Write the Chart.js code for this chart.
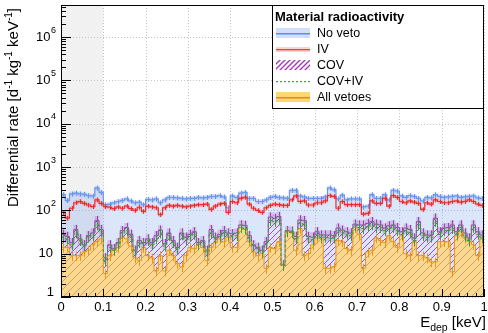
<!DOCTYPE html>
<html>
<head>
<meta charset="utf-8">
<script src="https://cdn.jsdelivr.net/npm/chart.js@4.4.1/dist/chart.umd.min.js"></script>
<style>
  html, body { margin: 0; padding: 0; background: #fff; }
  #c { display: block; }
</style>
</head>
<body>
<canvas id="c" width="488" height="333"></canvas>
<script>
// bins: 100 bins of 0.01 keV between 0 and 1 keV
const binEdges = Array.from({ length: 101 }, (_, i) => +(i * 0.01).toFixed(2));

// differential rates per bin [d^-1 kg^-1 keV^-1]
const noVeto = [
  230, 170, 240, 250, 240, 235, 220, 215, 330, 260, 135, 140, 150, 160, 170, 185, 165, 150, 155, 135,
  180, 175, 185, 150, 175, 200, 200, 195, 190, 185, 190, 190, 200, 195, 200, 210, 210, 220, 205, 115,
  215, 200, 250, 260, 190, 190, 160, 160, 175, 200, 210, 200, 195, 190, 290, 290, 215, 205, 190, 190,
  190, 190, 205, 330, 300, 185, 225, 175, 185, 185, 185, 120, 125, 230, 190, 190, 230, 175, 290, 280,
  215, 200, 220, 210, 190, 165, 200, 195, 230, 210, 200, 205, 210, 215, 200, 205, 210, 215, 195, 190
];
const iv = [
  90, 66, 112, 150, 160, 145, 133, 122, 175, 145, 122, 118, 110, 120, 112, 125, 110, 100, 118, 95,
  125, 120, 115, 80, 115, 130, 125, 130, 125, 120, 125, 130, 135, 135, 140, 105, 125, 140, 145, 90,
  160, 150, 190, 200, 140, 112, 100, 90, 115, 130, 140, 135, 130, 130, 175, 215, 160, 165, 133, 133,
  150, 150, 165, 220, 210, 112, 160, 135, 135, 135, 135, 82, 85, 165, 145, 145, 190, 125, 220, 200,
  160, 150, 165, 155, 145, 105, 150, 140, 175, 160, 150, 150, 160, 165, 155, 160, 175, 160, 140, 130
];
const cov = [
  28, 25, 18, 36, 22, 16, 26, 30, 58, 36, 8, 16, 13, 18, 34, 40, 28, 12, 20, 18,
  22, 18, 26, 35, 17, 30, 20, 14, 30, 24, 28, 32, 18, 20, 12, 36, 24, 28, 34, 30,
  29, 30, 46, 45, 26, 16, 14, 12, 19, 70, 66, 72, 5.5, 34, 33, 25, 60, 58, 25, 24,
  32, 27, 27, 27, 26, 39, 35, 32, 30, 48, 46, 46, 50, 55, 48, 46, 39, 44, 46, 40,
  32, 39, 36, 23, 55, 30, 27, 27, 66, 32, 39, 40, 46, 32, 46, 30, 23, 46, 32, 27
];
const covIv = [
  24, 22, 16, 30, 20, 15, 24, 26, 46, 32, 7, 14, 12, 17, 30, 34, 24, 11, 18, 17,
  20, 16, 22, 30, 15, 26, 18, 13, 27, 21, 25, 28, 16, 18, 11, 30, 22, 25, 30, 27,
  26, 26, 40, 38, 23, 15, 13, 11, 17, 58, 55, 60, 5.3, 32, 31, 22, 50, 48, 22, 21,
  28, 24, 24, 23, 23, 34, 30, 28, 26, 44, 40, 38, 42, 46, 40, 40, 34, 38, 40, 34,
  28, 34, 30, 20, 46, 26, 24, 24, 55, 28, 34, 34, 38, 28, 40, 26, 20, 40, 28, 24
];
const allVetoes = [
  14, 14, 9, 9, 9, 11, 12, 16, 19, 22, 3.5, 9, 12, 14, 24, 22, 15, 8, 7, 14,
  9, 8, 4, 9, 4, 12, 9, 6, 5, 9, 14, 13, 16, 14, 7, 14, 18, 22, 19, 24,
  14, 14, 40, 36, 19, 11, 9, 10, 4.6, 14, 13, 19, 5.3, 32, 30, 12, 38, 9, 10, 16,
  23, 22, 4.6, 4.6, 5, 20, 19, 13, 12, 40, 28, 4.6, 11, 12, 23, 20, 18, 26, 19, 14,
  26, 10, 9, 19, 9, 9, 8, 6.5, 6.5, 19, 19, 19, 3.8, 26, 32, 23, 19, 16, 9, 22
];

const seriesNames = ['No veto', 'IV', 'COV', 'COV+IV', 'All vetoes'];
const legendTitle = 'Material radioactivity';
const xTickValues = [0, 0.1, 0.2, 0.3, 0.4, 0.5, 0.6, 0.7, 0.8, 0.9, 1];
const xTickLabels = ['0', '0.1', '0.2', '0.3', '0.4', '0.5', '0.6', '0.7', '0.8', '0.9', '1'];
const yTickValues = [1, 10, 100, 1e3, 1e4, 1e5, 1e6];
const yTickExponents = ['', '', '2', '3', '4', '5', '6'];
const vetoRegion = [0, 0.1];

const FONT = '"Liberation Sans", Arial, Helvetica, sans-serif';

function hatch(bg, fg, size, lw) {
  const c = document.createElement('canvas');
  c.width = size; c.height = size;
  const g = c.getContext('2d');
  if (bg) { g.fillStyle = bg; g.fillRect(0, 0, size, size); }
  g.strokeStyle = fg;
  g.lineWidth = lw;
  g.beginPath();
  g.moveTo(-1, size + 1); g.lineTo(size + 1, -1);
  g.moveTo(-size / 2 - 1, size / 2 + 1); g.lineTo(size / 2 + 1, -size / 2 - 1);
  g.moveTo(size / 2 - 1, size * 1.5 + 1); g.lineTo(size * 1.5 + 1, size / 2 - 1);
  g.stroke();
  return g.createPattern(c, 'repeat');
}

const purpleHatch = hatch(null, 'rgba(165,55,185,0.9)', 6, 1);
const purpleHatchLegend = hatch(null, '#a637bb', 5, 1.4);
const orangeHatch = hatch('#f8d98e', '#dc9a72', 8, 1);

function histPoints(vals) {
  const pts = vals.map((v, i) => ({ x: binEdges[i], y: v }));
  pts.push({ x: binEdges[vals.length], y: vals[vals.length - 1] });
  return pts;
}

function histSet(label, vals, opts) {
  return Object.assign({
    label: label,
    data: histPoints(vals),
    histValues: vals,
    stepped: true,
    pointRadius: 0,
    borderWidth: 1,
    tension: 0,
    fill: false
  }, opts);
}

const datasets = [
  histSet(seriesNames[0], noVeto, {
    borderColor: '#6a94ee', backgroundColor: 'rgba(110,150,240,0.24)', fill: 'start', order: 6,
    borderWidth: 1.2,
    errStyle: { rel: 0.13, box: 'rgba(110,150,240,0.28)', bar: '#6a94ee' }
  }),
  histSet(seriesNames[2], cov, {
    borderColor: '#a33db5', backgroundColor: purpleHatch, fill: 'start', order: 5,
    errStyle: { rel: 0.28, box: 'rgba(170,80,190,0.3)', bar: '#a33db5' }
  }),
  histSet(seriesNames[4], allVetoes, {
    borderColor: '#eb9414', backgroundColor: orangeHatch, fill: 'start', order: 4,
    errStyle: { rel: 0.25, box: null, bar: '#eb9414' }
  }),
  histSet(seriesNames[3], covIv, {
    borderColor: '#3d9a3d', borderDash: [3, 2], order: 3,
    errStyle: { rel: 0.25, box: null, bar: '#3d9a3d' }
  }),
  histSet(seriesNames[1], iv, {
    borderColor: '#f02a2a', order: 2, borderWidth: 1.2,
    errStyle: { rel: 0.12, box: 'rgba(240,80,80,0.28)', bar: '#f02a2a' }
  })
];

// error bars / boxes, drawn after each fill and before its line
const errorPlugin = {
  id: 'errors',
  beforeDatasetDraw(chart, args) {
    const ds = chart.data.datasets[args.index];
    const e = ds.errStyle;
    if (!e) return;
    const xs = chart.scales.x, ys = chart.scales.y, ctx = chart.ctx, a = chart.chartArea;
    ctx.save();
    ctx.beginPath();
    ctx.rect(a.left, a.top, a.right - a.left, a.bottom - a.top);
    ctx.clip();
    ds.histValues.forEach((v, i) => {
      const x0 = xs.getPixelForValue(binEdges[i]);
      const x1 = xs.getPixelForValue(binEdges[i + 1]);
      const yl = ys.getPixelForValue(v * (1 - e.rel));
      const yh = ys.getPixelForValue(v * (1 + e.rel));
      if (e.box) {
        ctx.fillStyle = e.box;
        ctx.fillRect(x0, yh, x1 - x0, yl - yh);
      }
      const xc = Math.round((x0 + x1) / 2) + 0.5;
      ctx.strokeStyle = e.bar;
      ctx.lineWidth = 1;
      ctx.beginPath();
      ctx.moveTo(xc, yl);
      ctx.lineTo(xc, yh);
      ctx.stroke();
    });
    ctx.restore();
  }
};

// grey veto band and dotted grid
const backPlugin = {
  id: 'back',
  beforeDatasetsDraw(chart) {
    const ctx = chart.ctx, a = chart.chartArea, xs = chart.scales.x, ys = chart.scales.y;
    ctx.save();
    const b0 = xs.getPixelForValue(vetoRegion[0]), b1 = xs.getPixelForValue(vetoRegion[1]);
    ctx.fillStyle = '#f1f1f1';
    ctx.fillRect(b0, a.top, b1 - b0, a.bottom - a.top);
    ctx.strokeStyle = '#c4c4c4';
    ctx.lineWidth = 1;
    ctx.setLineDash([1, 2]);
    xTickValues.forEach(v => {
      const x = Math.round(xs.getPixelForValue(v)) + 0.5;
      ctx.beginPath(); ctx.moveTo(x, a.top); ctx.lineTo(x, a.bottom); ctx.stroke();
    });
    yTickValues.forEach(v => {
      const y = Math.round(ys.getPixelForValue(v)) + 0.5;
      ctx.beginPath(); ctx.moveTo(a.left, y); ctx.lineTo(a.right, y); ctx.stroke();
    });
    ctx.restore();
  }
};

function richWidth(ctx, parts) {
  let w = 0;
  parts.forEach(p => { ctx.font = p[1] + 'px ' + FONT; w += ctx.measureText(p[0]).width; });
  return w;
}
function drawRich(ctx, parts, x, y) {
  parts.forEach(p => {
    ctx.font = p[1] + 'px ' + FONT;
    ctx.fillText(p[0], x, y + p[2]);
    x += ctx.measureText(p[0]).width;
  });
}

// frame, inner ticks, labels, titles, legend
const framePlugin = {
  id: 'frame',
  afterDraw(chart) {
    const ctx = chart.ctx, a = chart.chartArea, xs = chart.scales.x, ys = chart.scales.y;
    ctx.save();
    ctx.strokeStyle = '#000';
    ctx.fillStyle = '#000';
    ctx.lineWidth = 1;
    ctx.setLineDash([]);

    // y ticks (log, inside)
    for (let d = 0; d < 7; d++) {
      for (let m = 1; m <= 9; m++) {
        const v = m * Math.pow(10, d);
        if (v > ys.max) break;
        const y = Math.round(ys.getPixelForValue(v)) + 0.5;
        const len = m === 1 ? 10 : 5;
        ctx.beginPath(); ctx.moveTo(a.left, y); ctx.lineTo(a.left + len, y); ctx.stroke();
      }
    }
    // x ticks
    for (let k = 0; k <= 50; k++) {
      const v = k * 0.02;
      const x = Math.round(xs.getPixelForValue(v)) + 0.5;
      const len = k % 5 === 0 ? 8 : 4;
      ctx.beginPath(); ctx.moveTo(x, a.bottom); ctx.lineTo(x, a.bottom - len); ctx.stroke();
    }

    // x tick labels
    ctx.font = '13px ' + FONT;
    ctx.textAlign = 'center';
    ctx.textBaseline = 'middle';
    xTickValues.forEach((v, i) => {
      ctx.fillText(xTickLabels[i], xs.getPixelForValue(v), a.bottom + 10);
    });

    // y tick labels
    ctx.textAlign = 'right';
    yTickValues.forEach((v, i) => {
      const y = ys.getPixelForValue(v);
      ctx.font = '13px ' + FONT;
      if (i === 0) {
        ctx.fillText('1', 54, y - 5);
      } else if (!yTickExponents[i]) {
        ctx.fillText('10', 53, y);
      } else {
        ctx.font = '9px ' + FONT;
        const w = ctx.measureText(yTickExponents[i]).width;
        ctx.fillText(yTickExponents[i], 56, y - 7);
        ctx.font = '13px ' + FONT;
        ctx.fillText('10', 56 - w - 0.5, y);
      }
    });

    // axis titles
    ctx.textAlign = 'left';
    ctx.textBaseline = 'alphabetic';
    const xt = [['E', 15, 0], ['dep', 10.5, 4], [' [keV]', 15, 0]];
    drawRich(ctx, xt, 486 - richWidth(ctx, xt), 327);

    const yt = [['Differential rate [d', 15, 0], ['-1', 10, -6], [' kg', 15, 0], ['-1', 10, -6],
                [' keV', 15, 0], ['-1', 10, -6], [']', 15, 0]];
    const yw = richWidth(ctx, yt);
    ctx.save();
    ctx.translate(18, 8 + yw);
    ctx.rotate(-Math.PI / 2);
    drawRich(ctx, yt, 0, 0);
    ctx.restore();

    // frame
    ctx.strokeStyle = '#000';
    ctx.strokeRect(Math.round(a.left) + 0.5, Math.round(a.top) + 0.5,
                   Math.round(a.right - a.left) - 1, Math.round(a.bottom - a.top) - 1);

    // legend
    const L = { x: 272, y: 5, w: 212, h: 103 };
    ctx.fillStyle = '#fff';
    ctx.fillRect(L.x + 0.5, L.y + 0.5, L.w - 1, L.h);
    ctx.strokeStyle = '#000';
    ctx.strokeRect(L.x + 0.5, L.y + 0.5, L.w - 1, L.h);
    ctx.fillStyle = '#000';
    ctx.textBaseline = 'middle';
    ctx.font = 'bold 13px ' + FONT;
    ctx.fillText(legendTitle, 275, 17);
    const rows = [33, 49, 65, 81, 97];
    const sx = 276, sw = 34;
    // No veto
    ctx.fillStyle = 'rgba(110,150,240,0.3)';
    ctx.fillRect(sx, rows[0] - 5, sw, 10);
    ctx.fillStyle = '#5f8cf0';
    ctx.fillRect(sx, rows[0], sw, 1.5);
    // IV
    ctx.fillStyle = 'rgba(240,80,80,0.25)';
    ctx.fillRect(sx, rows[1] - 2, sw, 5);
    ctx.fillStyle = '#f03c3c';
    ctx.fillRect(sx, rows[1], sw, 1.3);
    // COV
    ctx.fillStyle = purpleHatchLegend;
    ctx.fillRect(sx, rows[2] - 5, sw, 10);
    // COV+IV
    ctx.fillStyle = '#3d9a3d';
    for (let dx = 0; dx < sw; dx += 4) ctx.fillRect(sx + dx, rows[3], 2, 1.2);
    // All vetoes
    ctx.fillStyle = '#fcd873';
    ctx.fillRect(sx, rows[4] - 5, sw, 10);
    ctx.fillStyle = '#e88a10';
    ctx.fillRect(sx, rows[4], sw, 1.5);

    ctx.fillStyle = '#000';
    ctx.font = '12.5px ' + FONT;
    seriesNames.forEach((n, i) => ctx.fillText(n, 317, rows[i] + 0.5));
    ctx.restore();
  }
};

new Chart(document.getElementById('c'), {
  type: 'line',
  data: { datasets: datasets },
  options: {
    responsive: false,
    animation: false,
    layout: { padding: { left: 0, right: 4, top: 5, bottom: 0 } },
    plugins: { legend: { display: false }, tooltip: { enabled: false } },
    scales: {
      x: {
        type: 'linear', min: 0, max: 1,
        grid: { display: false },
        border: { display: false },
        ticks: { display: false },
        afterFit: s => { s.height = 36; }
      },
      y: {
        type: 'logarithmic', min: 1, max: 5.5e6,
        grid: { display: false },
        border: { display: false },
        ticks: { display: false },
        afterFit: s => { s.width = 61; }
      }
    }
  },
  plugins: [backPlugin, errorPlugin, framePlugin]
});
</script>
</body>
</html>
